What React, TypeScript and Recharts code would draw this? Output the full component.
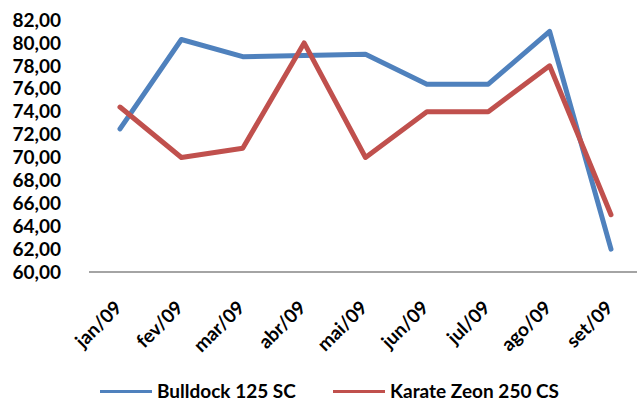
import React from 'react';
import { LineChart, Line, XAxis, YAxis, Legend } from 'recharts';

const months = ['jan/09', 'fev/09', 'mar/09', 'abr/09', 'mai/09', 'jun/09', 'jul/09', 'ago/09', 'set/09'];
const bulldock = [72.5, 80.3, 78.8, 78.9, 79.0, 76.4, 76.4, 81.0, 62.0];
const karate = [74.4, 70.0, 70.8, 80.0, 70.0, 74.0, 74.0, 78.0, 65.0];
const yTicks = [60, 62, 64, 66, 68, 70, 72, 74, 76, 78, 80, 82];

const seriesNames = ['Bulldock 125 SC', 'Karate Zeon 250 CS'];
const colors = ['#4F81BD', '#C0504D'];

const data = months.map((m, i) => ({ month: m, a: bulldock[i], b: karate[i] }));

const FONT = 'Lato, "Open Sans", sans-serif';

const XTick = (props: any) => {
  const { x, y, payload } = props;
  const ax = x + 3;
  const ay = y + 37;
  return (
    <text
      x={ax}
      y={ay}
      transform={`rotate(-45, ${ax}, ${ay})`}
      textAnchor="end"
      fontFamily={FONT}
      fontWeight="bold"
      fontSize={19}
      fill="#000"
    >
      {payload.value}
    </text>
  );
};

const LegendContent = () => {
  const lefts = [100, 333];
  return (
    <div style={{ position: 'relative', width: 637, height: 24 }}>
      {seriesNames.map((n, i) => (
        <div
          key={n}
          style={{
            position: 'absolute',
            left: lefts[i],
            top: 0,
            height: 24,
            display: 'flex',
            alignItems: 'center',
            whiteSpace: 'nowrap',
          }}
        >
          <div style={{ width: 52, height: 3, background: colors[i] }} />
          <span
            style={{
              marginLeft: 5,
              fontFamily: FONT,
              fontWeight: 'bold',
              fontSize: 19,
              color: '#000',
              lineHeight: '24px',
            }}
          >
            {n}
          </span>
        </div>
      ))}
    </div>
  );
};

export default function App() {
  return (
    <div style={{ position: 'absolute', left: 0, top: 0, width: 637, height: 403, background: '#fff', overflow: 'hidden' }}>
      <LineChart width={637} height={403} data={data} margin={{ top: 20, right: 0, left: 0, bottom: 0 }}>
        <XAxis
          dataKey="month"
          height={107}
          tickLine={false}
          tickSize={0}
          tickMargin={0}
          axisLine={{ stroke: '#868686', strokeWidth: 1.5 }}
          padding={{ left: 31, right: 26 }}
          interval={0}
          tick={<XTick />}
        />
        <YAxis
          width={89}
          domain={[60, 82]}
          ticks={yTicks}
          interval={0}
          axisLine={false}
          tickLine={false}
          tickSize={0}
          tickMargin={28}
          tickFormatter={(v: number) => v.toFixed(2).replace('.', ',')}
          tick={{ fontFamily: FONT, fontWeight: 'bold', fontSize: 19, fill: '#000' }}
        />
        <Legend verticalAlign="bottom" content={<LegendContent />} />
        <Line
          dataKey="a"
          name={seriesNames[0]}
          stroke={colors[0]}
          strokeWidth={5}
          dot={false}
          activeDot={false}
          strokeLinejoin="round"
          strokeLinecap="round"
          isAnimationActive={false}
        />
        <Line
          dataKey="b"
          name={seriesNames[1]}
          stroke={colors[1]}
          strokeWidth={5}
          dot={false}
          activeDot={false}
          strokeLinejoin="round"
          strokeLinecap="round"
          isAnimationActive={false}
        />
      </LineChart>
    </div>
  );
}
